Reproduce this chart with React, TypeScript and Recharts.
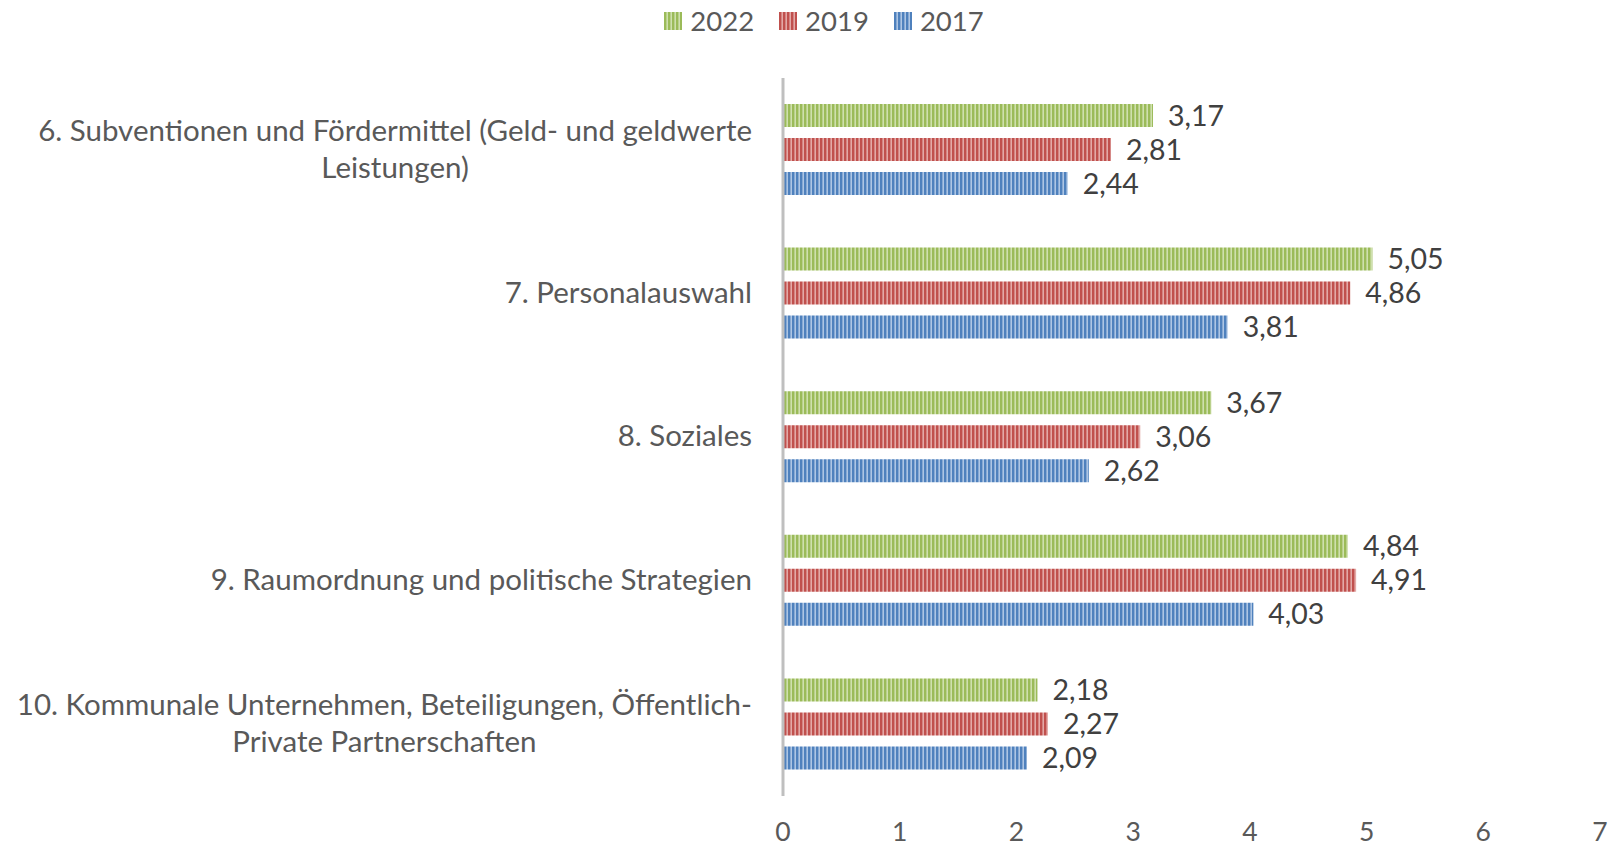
import { BarChart, Bar, XAxis, YAxis, LabelList } from 'recharts'

const categories = [
  '6. Subventionen und Fördermittel (Geld- und geldwerte\nLeistungen)',
  '7. Personalauswahl',
  '8. Soziales',
  '9. Raumordnung und politische Strategien',
  '10. Kommunale Unternehmen, Beteiligungen, Öffentlich-\nPrivate Partnerschaften',
]
const values2022 = [3.17, 5.05, 3.67, 4.84, 2.18]
const values2019 = [2.81, 4.86, 3.06, 4.91, 2.27]
const values2017 = [2.44, 3.81, 2.62, 4.03, 2.09]
const xTicks = [0, 1, 2, 3, 4, 5, 6, 7]

const data = categories.map((name, i) => ({
  name,
  y2022: values2022[i],
  y2019: values2019[i],
  y2017: values2017[i],
}))

const series = [
  { key: 'y2022', label: '2022', dark: '#9bbb59', light: '#cfe0ae', id: 'pat2022' },
  { key: 'y2019', label: '2019', dark: '#c0504d', light: '#e3a9a7', id: 'pat2019' },
  { key: 'y2017', label: '2017', dark: '#4f81bd', light: '#aec6e4', id: 'pat2017' },
]

const FONT = 'Lato, "Open Sans", sans-serif'
const CAT_SIZE = 29.5
const VAL_SIZE = 28.5
const LEGEND_SIZE = 27.5
const TICK_SIZE = 26.5
const TEXT = '#595959'

let ctx: CanvasRenderingContext2D | null = null
function measure(s: string) {
  if (!ctx) ctx = document.createElement('canvas').getContext('2d')
  if (!ctx) return s.length * CAT_SIZE * 0.5
  ctx.font = `${CAT_SIZE}px Lato`
  return ctx.measureText(s).width
}

function CategoryTick(props: any) {
  const { x, y, payload } = props
  const lines: string[] = String(payload.value).split('\n')
  const lh = 37
  const startY = y - ((lines.length - 1) * lh) / 2
  if (lines.length === 1) {
    return (
      <text x={x} y={y - 1} dy="0.35em" textAnchor="end" fill={TEXT} fontSize={CAT_SIZE} fontFamily={FONT}>
        {lines[0]}
      </text>
    )
  }
  const maxW = Math.max(...lines.map(measure))
  const cx = x - maxW / 2
  return (
    <text textAnchor="middle" fill={TEXT} fontSize={CAT_SIZE} fontFamily={FONT}>
      {lines.map((l, i) => (
        <tspan key={i} x={cx} y={startY + i * lh - 1} dy="0.35em">
          {l}
        </tspan>
      ))}
    </text>
  )
}

export default function App() {
  return (
    <div style={{ position: 'relative', width: 1621, height: 849, background: '#fff' }}>
      <style>{'body{margin:0}'}</style>
      <svg width={0} height={0} style={{ position: 'absolute' }}>
        <defs>
          {series.map((s) => (
            <pattern key={s.id} id={s.id} width={4} height={4} patternUnits="userSpaceOnUse">
              <rect width={4} height={4} fill={s.light} />
              <rect width={2.4} height={4} fill={s.dark} />
            </pattern>
          ))}
        </defs>
      </svg>
      <div
        style={{
          position: 'absolute',
          top: 1,
          left: 0,
          width: 1648,
          display: 'flex',
          justifyContent: 'center',
          gap: 25,
          fontFamily: FONT,
          fontSize: LEGEND_SIZE,
          color: TEXT,
          lineHeight: '40px',
        }}
      >
        {series.map((s) => (
          <div key={s.key} style={{ display: 'flex', alignItems: 'center', gap: 8 }}>
            <svg width={18} height={18}>
              <rect width={18} height={18} fill={`url(#${s.id})`} />
            </svg>
            <span>{s.label}</span>
          </div>
        ))}
      </div>
      <BarChart
        width={1621}
        height={849}
        data={data}
        layout="vertical"
        margin={{ top: 78, right: 21, bottom: 0, left: 0 }}
        barSize={23}
        barGap={11}
      >
        <XAxis
          type="number"
          domain={[0, 7]}
          ticks={xTicks}
          axisLine={false}
          tickLine={false}
          tickMargin={20}
          height={53}
          tick={{ fill: TEXT, fontSize: TICK_SIZE, fontFamily: FONT }}
        />
        <YAxis
          type="category"
          dataKey="name"
          width={783}
          axisLine={{ stroke: '#bfbfbf', strokeWidth: 3 }}
          tickLine={false}
          tickMargin={25}
          tick={<CategoryTick />}
          interval={0}
        />
        {series.map((s) => (
          <Bar key={s.key} dataKey={s.key} fill={`url(#${s.id})`} isAnimationActive={false}>
            <LabelList
              dataKey={s.key}
              position="right"
              offset={15}
              formatter={(v: any) => Number(v).toFixed(2).replace('.', ',')}
              style={{ fill: '#404040', fontSize: VAL_SIZE, fontFamily: FONT }}
            />
          </Bar>
        ))}
      </BarChart>
    </div>
  )
}
